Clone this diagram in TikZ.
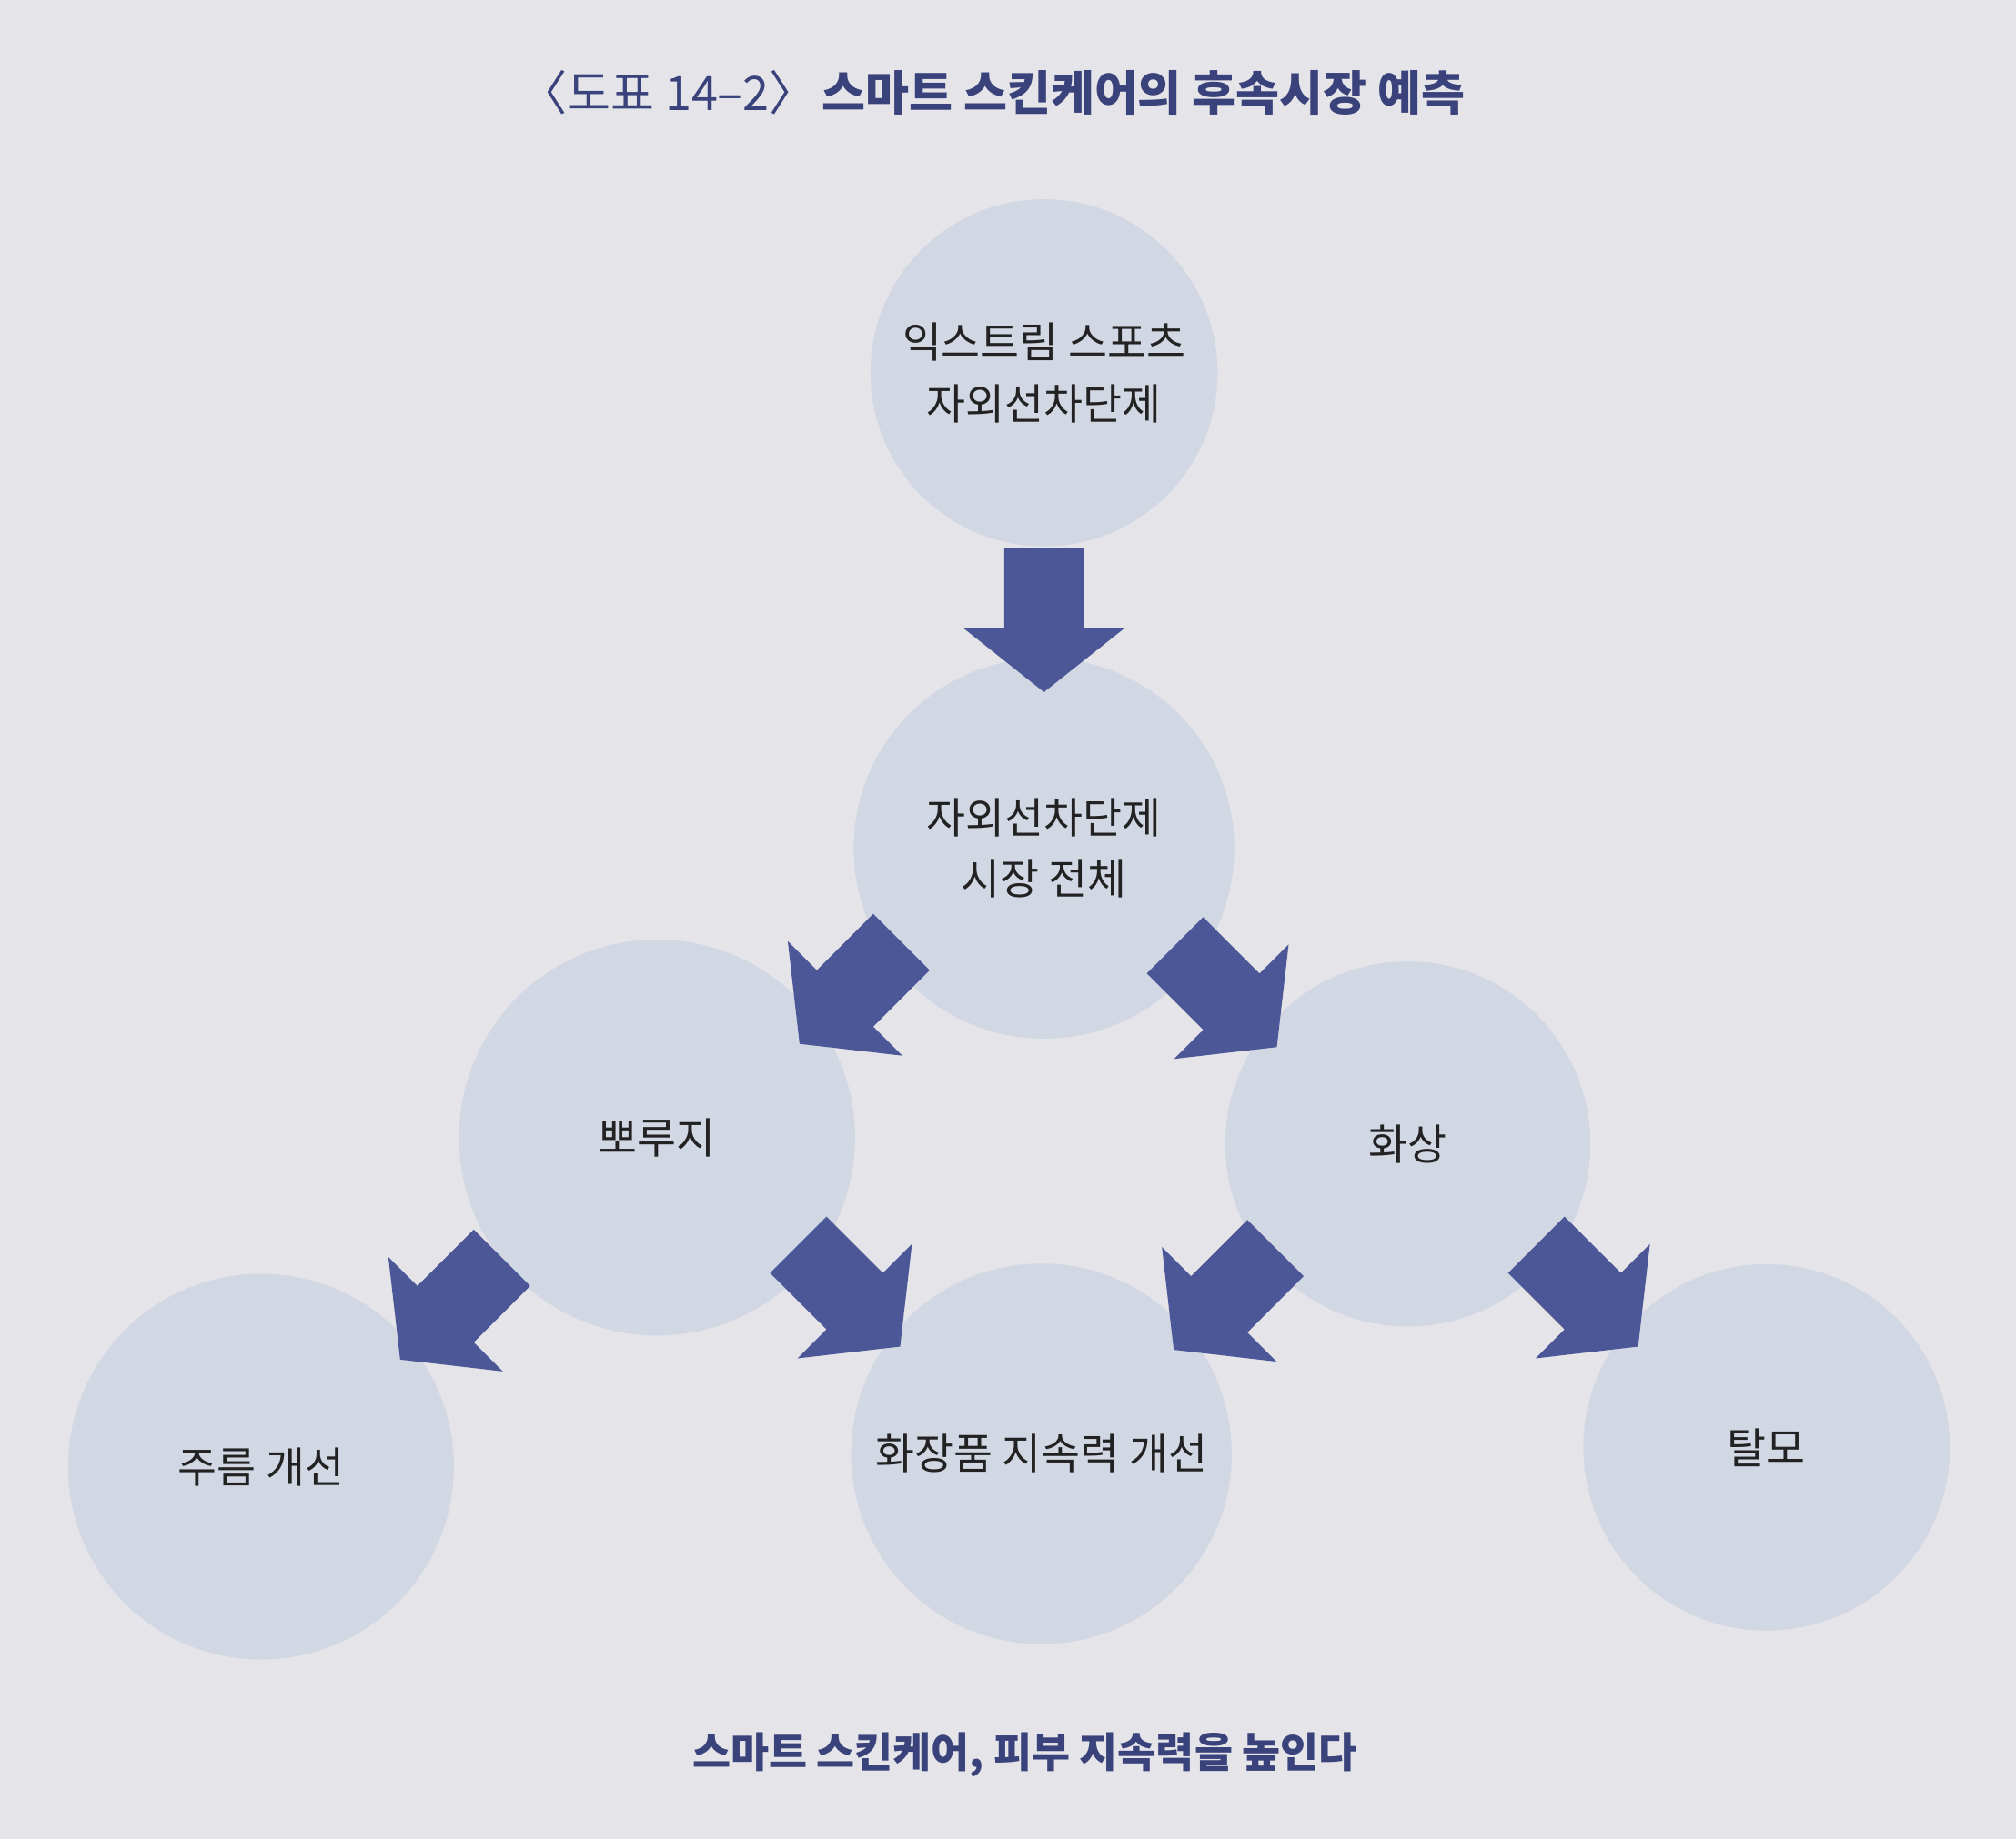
\documentclass[tikz,border=0pt]{standalone}
\usepackage{fontspec}
\setmainfont{Noto Sans CJK KR}
\usetikzlibrary{calc}
\definecolor{bgc}{HTML}{E4E4E9}
\definecolor{circc}{HTML}{D2D7E4}
\definecolor{arrc}{HTML}{4B5797}
\definecolor{titc}{HTML}{39427A}
\definecolor{txtc}{HTML}{222222}
\tikzset{
  bubble/.style={circle, fill=circc, inner sep=0pt, minimum size=#1,
    font=\fontsize{9.4pt}{13.6pt}\selectfont, text=txtc, align=center},
  blockarrow/.pic={\fill[arrc] (-56,-31) -- (6,-31) -- (6,-63) -- (56,0)
    -- (6,63) -- (6,31) -- (-56,31) -- cycle;},
  heading/.style={font=\fontsize{10.5pt}{12pt}\selectfont, text=titc},
  caption/.style={font=\fontsize{9.2pt}{11pt}\selectfont\bfseries, text=titc}
}
\begin{document}
\begin{tikzpicture}[x=0.1mm,y=-0.1mm]
\useasboundingbox (0,0) rectangle (1568,1431);
\fill[bgc] (0,0) rectangle (1568,1431);

\node[heading] (title) at (772,72) {〈도표 14–2〉\hspace{0.1em}{\bfseries 스마트 스킨케어의 후속시장 예측}};

\node[bubble=27mm]   (top)   at (812,290)  {익스트림 스포츠\\자외선차단제};
\node[bubble=29.6mm] (mid)   at (812,660)  {자외선차단제\\시장 전체};
\node[bubble=30.8mm] (left)  at (511,885)  {뽀루지};
\node[bubble=28.4mm] (right) at (1095,890) {화상};
\node[bubble=30mm]   (bl)    at (203,1141) {주름 개선};
\node[bubble=29.6mm] (bm)    at (810,1131) {화장품 지속력 개선};
\node[bubble=28.5mm] (br)    at (1374,1126) {탈모};

\pic[rotate=-90]  at ($(top)!0.52!(mid)$)   {blockarrow};
\pic[rotate=-135] at ($(mid)!0.5!(left)$)   {blockarrow};
\pic[rotate=-45]  at ($(mid)!0.5!(right)$)  {blockarrow};
\pic[rotate=-135] at ($(left)!0.52!(bl)$)   {blockarrow};
\pic[rotate=-45]  at ($(left)!0.5!(bm)$)    {blockarrow};
\pic[rotate=-135] at ($(right)!0.5!(bm)$)   {blockarrow};
\pic[rotate=-45]  at ($(right)!0.5!(br)$)   {blockarrow};

\node[caption] (cap) at (797,1365) {스마트 스킨케어, 피부 지속력을 높인다};
\end{tikzpicture}
\end{document}
